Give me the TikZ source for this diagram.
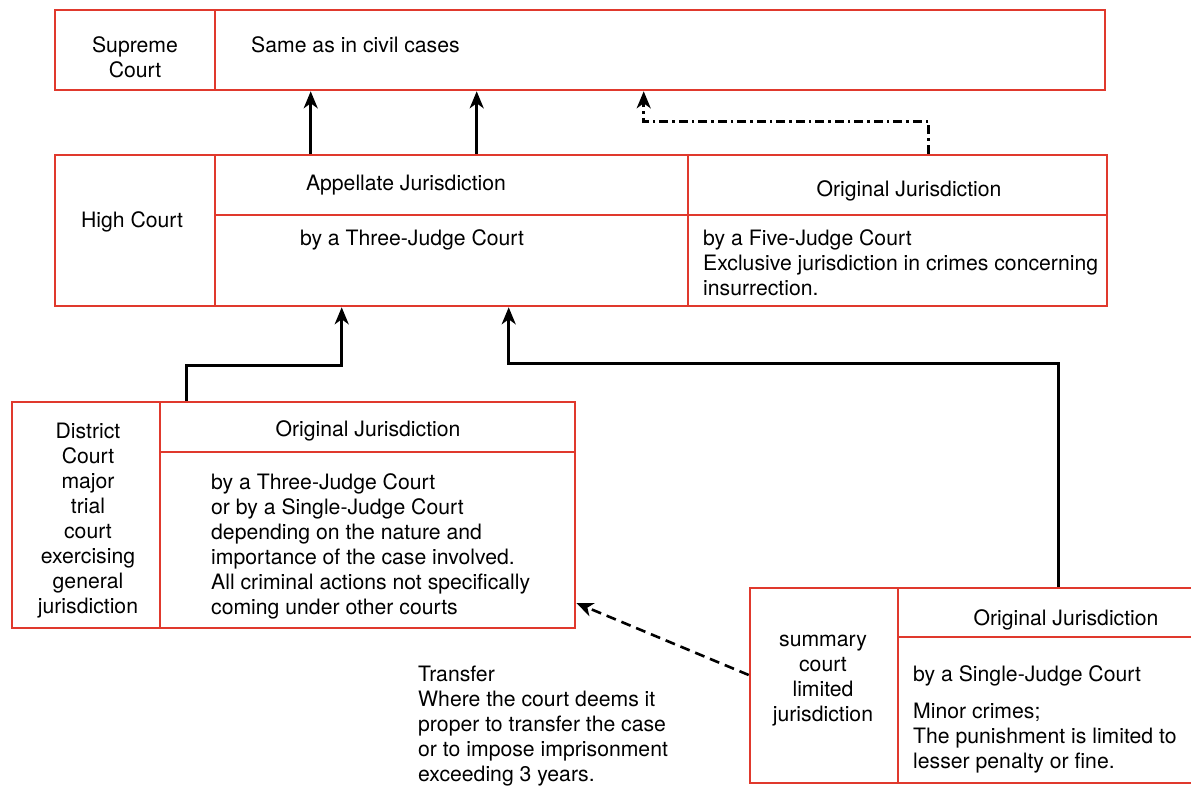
\documentclass[tikz,border=0pt]{standalone}
\usepackage{fontspec}
\setsansfont{TeX Gyre Heros}
\usetikzlibrary{arrows.meta, calc}
\definecolor{cellStroke}{HTML}{E0392D}
\tikzset{
  chart/.style = {
    font=\sffamily\fontsize{21.2}{25}\selectfont,
    >=Stealth,
  },
  cell/.style = {
    rectangle, draw=cellStroke, line width=2.6pt, inner sep=0pt,
  },
  txt/.style = {inner sep=0pt, align=center},
  ltxt/.style = {inner sep=0pt, align=left, anchor=west},
  arr/.style = {-{Stealth[length=17pt, width=14pt, inset=5pt]}, line width=2.6pt, draw=black},
  dasharr/.style = {arr, dash pattern=on 10pt off 6pt},
  dotarr/.style = {arr, dash pattern=on 9pt off 4pt on 2.5pt off 4pt},
}

\begin{document}
\begin{tikzpicture}[chart, x=1pt, y=1pt]

\clip (0,0) rectangle (1191,-787);

% supreme court
\node[cell, minimum width=160pt, minimum height=80pt] (sc)     at (135,-50)   {};
\node[cell, minimum width=890pt, minimum height=80pt] (scSame) at (660,-50)   {};
\node[txt]  (scText)   at (135,-57) {Supreme\\Court};
\node[ltxt] (sameText) at (251,-45)   {Same as in civil cases};

% high court
\node[cell, minimum width=160pt, minimum height=151pt] (hc)       at (135,-230.5)   {};
\node[cell, minimum width=473pt, minimum height=60pt]  (appHead)  at (451.5,-185)   {};
\node[cell, minimum width=473pt, minimum height=91pt]  (appBody)  at (451.5,-260.5) {};
\node[cell, minimum width=419pt, minimum height=60pt]  (origHead) at (897.5,-185)   {};
\node[cell, minimum width=419pt, minimum height=91pt]  (origBody) at (897.5,-260.5) {};
\node[txt]  (hcText)    at (132,-222) {High Court};
\node[txt]  (appText)   at (406,-185) {Appellate Jurisdiction};
\node[txt]  (threeText) at (412,-240) {by a Three-Judge Court};
\node[txt]  (origText)  at (909,-190.5) {Original Jurisdiction};
\node[ltxt] (fiveText)  at (703,-263) {by a Five-Judge Court\\Exclusive jurisdiction in crimes concerning\\insurrection.};

% district court
\node[cell, minimum width=148pt, minimum height=226pt] (dc)     at (86,-515)    {};
\node[cell, minimum width=415pt, minimum height=50pt]  (dcHead) at (367.5,-427) {};
\node[cell, minimum width=415pt, minimum height=176pt] (dcBody) at (367.5,-540) {};
\node[txt]  (dcText)     at (88,-521)    {District\\Court\\major\\trial\\court\\exercising\\general\\jurisdiction};
\node[txt]  (dcHeadText) at (368,-431)   {Original Jurisdiction};
\node[ltxt] (dcBodyText) at (211,-546) {by a Three-Judge Court\\or by a Single-Judge Court\\depending on the nature and\\importance of the case involved.\\All criminal actions not specifically\\coming under other courts};

% summary court
\node[cell, minimum width=148pt, minimum height=195pt] (smc)     at (824,-685.5) {};
\node[cell, minimum width=338pt, minimum height=49pt]  (smcHead) at (1067,-612.5) {};
\node[cell, minimum width=338pt, minimum height=146pt] (smcBody) at (1067,-710)   {};
\node[txt]  (smcText)     at (823,-681) {summary\\court\\limited\\jurisdiction};
\node[txt]  (smcHeadText) at (1066,-620)  {Original Jurisdiction};
\node[ltxt] (smcBodyText) at (913,-719) {by a Single-Judge Court\\[12pt]Minor crimes;\\The punishment is limited to\\lesser penalty or fine.};

\node[ltxt] (transText) at (418,-726) {Transfer\\Where the court deems it\\proper to transfer the case\\or to impose imprisonment\\exceeding 3 years.};

% appeals
\draw[arr] ($(appHead.north west)+(97,0)$) -- ($(scSame.south west)+(97,0)$);
\draw[arr] ($(appHead.north west)+(263,0)$) -- ($(scSame.south west)+(263,0)$);
\draw[dotarr] ($(origHead.north west)+(242,0)$) -- ++(0,32) -| ($(scSame.south west)+(430,0)$);
\draw[arr] ($(dcHead.north west)+(28,0)$) -- ++(0,35) -| ($(appBody.south west)+(128,0)$);
\draw[arr] ($(smcHead.north west)+(162,0)$) -- ++(0,223) -| ($(appBody.south west)+(295,0)$);
\draw[dasharr] ($(smc.west)+(0,10.5)$) -- ($(dcBody.east)+(0,-63)$);

\end{tikzpicture}
\end{document}
